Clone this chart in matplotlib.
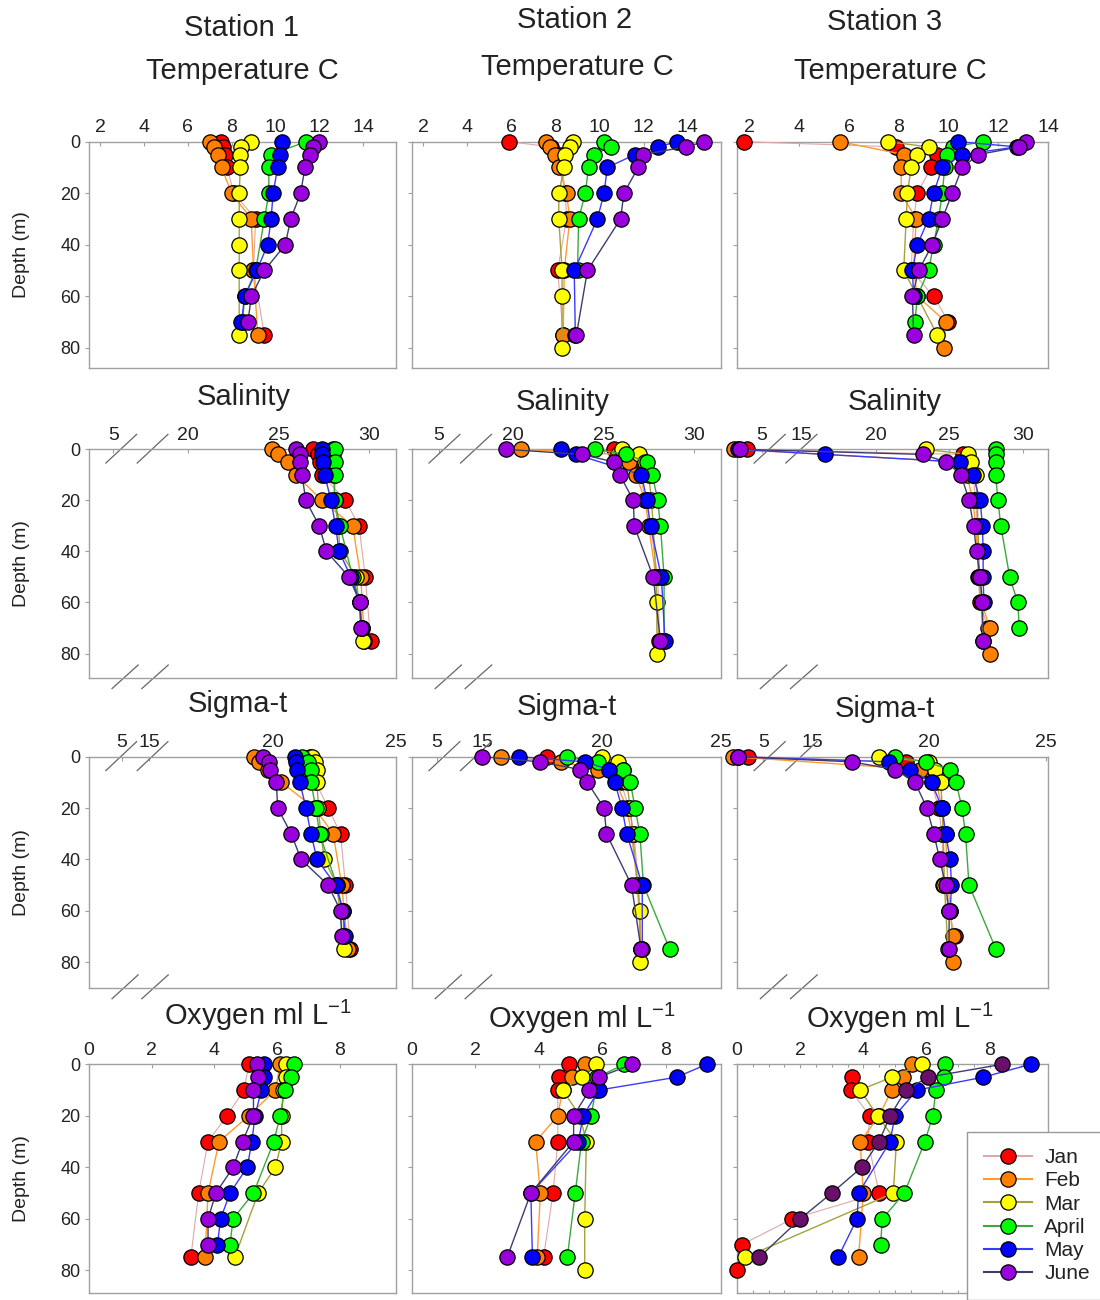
import matplotlib
matplotlib.use("Agg")
import matplotlib.pyplot as plt
from matplotlib.ticker import MultipleLocator

plt.rcParams['font.family'] = ['Liberation Sans', 'DejaVu Sans']
plt.rcParams['mathtext.fontset'] = 'custom'
plt.rcParams['mathtext.rm'] = 'Liberation Sans'
plt.rcParams['mathtext.it'] = 'Liberation Sans:italic'

# months and their styles
months = ["Jan", "Feb", "Mar", "April", "May", "June"]
face_colors = ["#ff0000", "#ff7f00", "#ffff00", "#00ff00", "#0000ff", "#9900dd"]
line_colors = ["#e0a8a8", "#ff9a30", "#a3a33a", "#3aaa3a", "#3a3aff", "#3c3c70"]

# ---- data: month -> (depths in m, values) ----
temp_st1 = {
    "Jan": ([0, 2, 5, 10, 20, 30, 50, 75], [7.5, 7.6, 7.7, 7.8, 8.1, 9.1, 9.0, 9.5]),
    "Feb": ([0, 2, 5, 10, 20, 30, 50, 75], [7.0, 7.2, 7.4, 7.55, 8.0, 8.9, 9.0, 9.2]),
    "Mar": ([0, 2, 5, 10, 20, 30, 40, 50, 75], [8.9, 8.45, 8.4, 8.4, 8.35, 8.35, 8.35, 8.35, 8.35]),
    "April": ([0, 5, 10, 20, 30, 50, 60, 70], [11.4, 9.8, 9.7, 9.7, 9.5, 9.1, 8.6, 8.5]),
    "May": ([0, 5, 10, 20, 30, 40, 50, 60, 70], [10.3, 10.2, 10.1, 9.9, 9.8, 9.65, 9.15, 8.6, 8.45]),
    "June": ([0, 2, 5, 10, 20, 30, 40, 50, 60, 70], [12.0, 11.7, 11.6, 11.35, 11.15, 10.7, 10.45, 9.5, 8.9, 8.75]),
}
temp_st2 = {
    "Jan": ([0, 2, 5, 10, 20, 30, 50, 75], [5.9, 7.8, 8.2, 8.3, 8.45, 8.5, 8.1, 8.35]),
    "Feb": ([0, 2, 5, 10, 20, 30, 50, 75], [7.55, 7.75, 8.0, 8.15, 8.5, 8.65, 8.4, 8.35]),
    "Mar": ([0, 2, 5, 10, 20, 30, 50, 60, 80], [8.8, 8.65, 8.45, 8.4, 8.15, 8.15, 8.3, 8.3, 8.3]),
    "April": ([0, 2, 5, 10, 20, 30, 50], [10.2, 10.5, 9.75, 9.5, 9.35, 9.05, 9.0]),
    "May": ([0, 2, 5, 10, 20, 30, 50, 75], [13.5, 12.65, 11.6, 10.35, 10.2, 9.9, 8.85, 8.9]),
    "June": ([0, 2, 5, 10, 20, 30, 50, 75], [14.75, 13.9, 11.95, 11.75, 11.1, 10.95, 9.45, 8.95]),
}
temp_st3 = {
    "Jan": ([0, 2, 5, 10, 20, 30, 50, 60, 70], [1.8, 7.9, 9.55, 9.3, 8.75, 8.6, 8.5, 9.4, 10.0]),
    "Feb": ([0, 5, 10, 20, 30, 50, 60, 70, 80], [5.65, 8.2, 8.1, 8.1, 8.7, 8.6, 8.75, 9.9, 9.8]),
    "Mar": ([0, 2, 5, 10, 20, 30, 50, 75], [7.55, 9.2, 8.75, 8.5, 8.35, 8.3, 8.2, 9.55]),
    "April": ([0, 2, 5, 10, 20, 30, 40, 50, 60, 70], [11.4, 10.2, 9.95, 9.85, 9.75, 9.6, 9.4, 9.2, 8.75, 8.65]),
    "May": ([0, 2, 5, 10, 20, 30, 40, 50, 60], [10.4, 12.75, 10.55, 9.75, 9.4, 9.2, 8.75, 8.55, 8.6]),
    "June": ([0, 2, 5, 10, 20, 30, 40, 50, 60, 75], [13.1, 12.85, 11.2, 10.55, 10.15, 9.75, 9.35, 8.8, 8.55, 8.6]),
}

sal_st1 = {
    "Jan": ([0, 2, 5, 10, 20, 30, 50, 75], [26.9, 27.2, 27.3, 27.4, 28.7, 29.45, 29.8, 30.1]),
    "Feb": ([0, 2, 5, 10, 20, 30, 50, 75], [24.65, 24.95, 25.5, 25.95, 27.4, 29.1, 29.55, 29.75]),
    "Mar": ([0, 2, 5, 10, 20, 30, 40, 50, 75], [28.0, 28.0, 28.0, 28.05, 28.1, 28.3, 28.4, 29.3, 29.65]),
    "April": ([0, 5, 10, 20, 30, 50, 60, 70], [28.1, 28.1, 28.1, 28.1, 28.4, 29.1, 29.5, 29.6]),
    "May": ([0, 2, 5, 10, 20, 30, 40, 50, 60, 70], [27.4, 27.4, 27.45, 27.55, 27.9, 28.15, 28.35, 29.0, 29.5, 29.6]),
    "June": ([0, 2, 5, 10, 20, 30, 40, 50, 60, 70], [25.95, 26.2, 26.2, 26.3, 26.5, 27.25, 27.65, 28.9, 29.5, 29.55]),
}
sal_st2 = {
    "Jan": ([0, 5, 10, 20, 30, 50, 75], [25.6, 26.5, 27.0, 27.35, 27.6, 28.0, 28.1]),
    "Feb": ([0, 2, 5, 10, 20, 30, 50, 75], [20.45, 25.8, 26.4, 26.8, 27.3, 27.5, 27.9, 28.05]),
    "Mar": ([0, 2, 5, 10, 20, 30, 50, 60, 80], [26.0, 26.95, 27.3, 27.5, 27.65, 27.75, 27.9, 27.95, 27.95]),
    "April": ([0, 2, 5, 10, 20, 30, 50, 75], [24.5, 26.25, 27.4, 27.7, 28.0, 28.15, 28.35, 28.35]),
    "May": ([0, 2, 10, 20, 30, 50, 75], [22.65, 23.45, 27.1, 27.4, 27.6, 28.2, 28.4]),
    "June": ([0, 2, 5, 10, 20, 30, 50, 75], [19.6, 23.8, 25.6, 25.9, 26.65, 26.7, 27.75, 28.15]),
}
sal_st3 = {
    "Jan": ([0, 2, 5, 10, 20, 30, 50, 60, 70], [4.0, 25.9, 26.3, 26.6, 26.8, 26.9, 26.95, 27.1, 27.6]),
    "Feb": ([0, 5, 10, 20, 30, 50, 60, 70, 80], [3.1, 25.7, 26.2, 26.6, 26.8, 27.0, 27.2, 27.75, 27.75]),
    "Mar": ([0, 2, 5, 10, 20, 30, 50, 75], [23.4, 26.25, 26.5, 26.8, 26.9, 26.95, 27.05, 27.3]),
    "April": ([0, 2, 5, 10, 20, 30, 50, 60, 70], [28.15, 28.15, 28.15, 28.15, 28.3, 28.5, 29.1, 29.65, 29.75]),
    "May": ([0, 2, 5, 10, 20, 30, 40, 50, 60], [3.4, 16.6, 25.7, 26.6, 27.1, 27.25, 27.3, 27.3, 27.35]),
    "June": ([0, 2, 5, 10, 20, 30, 40, 50, 60, 75], [3.55, 23.2, 24.8, 25.8, 26.35, 26.65, 26.85, 27.1, 27.25, 27.3]),
}

sig_st1 = {
    "Jan": ([0, 2, 5, 10, 20, 30, 50, 75], [21.5, 21.55, 21.65, 21.75, 22.25, 22.75, 22.95, 23.15]),
    "Feb": ([0, 2, 5, 10, 20, 30, 50, 75], [19.25, 19.45, 19.8, 20.35, 21.7, 22.45, 22.8, 23.05]),
    "Mar": ([0, 2, 5, 10, 20, 30, 40, 50, 75], [21.6, 21.7, 21.8, 21.8, 21.85, 21.95, 22.1, 22.6, 22.9]),
    "April": ([0, 2, 5, 10, 20, 30, 50, 60, 70], [21.2, 21.45, 21.55, 21.55, 21.75, 21.9, 22.6, 22.85, 22.9]),
    "May": ([0, 2, 5, 10, 20, 30, 40, 50, 60, 70], [20.9, 20.95, 21.0, 21.1, 21.35, 21.55, 21.8, 22.55, 22.85, 22.95]),
    "June": ([0, 2, 5, 10, 20, 30, 40, 50, 60, 70], [19.6, 19.85, 19.9, 20.15, 20.2, 20.75, 21.15, 22.25, 22.75, 22.8]),
}
sig_st2 = {
    "Jan": ([0, 2, 5, 10, 20, 30, 50, 75], [17.7, 19.9, 20.35, 20.8, 21.15, 21.35, 21.55, 21.65]),
    "Feb": ([0, 2, 5, 10, 20, 30, 50, 75], [15.8, 18.3, 19.85, 20.6, 21.05, 21.25, 21.5, 21.65]),
    "Mar": ([0, 2, 5, 10, 20, 30, 50, 60, 80], [20.0, 20.7, 20.9, 21.05, 21.2, 21.3, 21.5, 21.6, 21.6]),
    "April": ([0, 2, 5, 10, 20, 30, 50, 75], [18.55, 19.85, 20.9, 21.2, 21.4, 21.6, 21.75, 22.85]),
    "May": ([0, 2, 5, 10, 20, 30, 50, 75], [16.55, 19.3, 20.3, 20.55, 20.85, 21.05, 21.7, 21.7]),
    "June": ([0, 2, 5, 10, 20, 30, 50, 75], [15.0, 17.4, 19.1, 19.4, 20.1, 20.2, 21.25, 21.65]),
}
sig_st3 = {
    "Jan": ([0, 2, 5, 10, 20, 30, 50, 60, 70], [4.35, 19.0, 19.7, 20.1, 20.4, 20.55, 20.6, 20.85, 21.1]),
    "Feb": ([0, 5, 10, 20, 30, 50, 60, 70, 80], [3.7, 19.6, 20.3, 20.55, 20.7, 20.8, 20.9, 21.0, 21.0]),
    "Mar": ([0, 2, 5, 10, 20, 30, 50, 75], [17.85, 20.0, 20.25, 20.5, 20.55, 20.6, 20.65, 20.8]),
    "April": ([0, 2, 5, 10, 20, 30, 50, 75], [18.55, 19.85, 20.9, 21.15, 21.4, 21.55, 21.7, 22.85]),
    "May": ([0, 2, 5, 10, 20, 30, 40, 50, 60], [3.9, 18.3, 19.2, 20.1, 20.55, 20.7, 20.9, 20.95, 20.9]),
    "June": ([0, 2, 5, 10, 20, 30, 40, 50, 60, 75], [3.9, 16.7, 18.55, 19.4, 19.9, 20.2, 20.45, 20.7, 20.85, 20.85]),
}

oxy_st1 = {
    "Jan": ([0, 10, 20, 30, 50, 75], [5.1, 4.95, 4.4, 3.8, 3.5, 3.25]),
    "Feb": ([0, 10, 20, 30, 50, 75], [6.1, 5.95, 5.1, 4.15, 3.8, 3.7]),
    "Mar": ([0, 5, 10, 20, 30, 40, 50, 75], [6.3, 6.3, 6.2, 6.15, 6.15, 5.95, 5.4, 4.65]),
    "April": ([0, 5, 10, 20, 30, 50, 60, 70], [6.55, 6.45, 6.25, 6.1, 5.9, 5.25, 4.6, 4.5]),
    "May": ([0, 5, 10, 20, 30, 40, 50, 60, 70], [5.6, 5.6, 5.5, 5.3, 5.2, 5.05, 4.5, 4.2, 4.1]),
    "June": ([0, 5, 10, 20, 30, 40, 50, 60, 70], [5.35, 5.4, 5.25, 5.25, 4.9, 4.6, 4.05, 3.8, 3.8]),
}
oxy_st2 = {
    "Jan": ([0, 5, 10, 30, 50, 75], [4.95, 4.65, 4.6, 4.6, 4.45, 4.15]),
    "Feb": ([0, 5, 10, 20, 30, 50, 75], [5.45, 5.05, 4.75, 4.6, 3.9, 4.05, 3.95]),
    "Mar": ([0, 5, 10, 20, 30, 60, 80], [5.8, 5.35, 4.75, 5.3, 5.5, 5.45, 5.45]),
    "April": ([0, 5, 10, 20, 30, 50, 75], [6.7, 5.85, 5.8, 5.65, 5.35, 5.15, 4.9]),
    "May": ([0, 5, 10, 20, 30, 50, 75], [9.3, 8.35, 5.9, 5.4, 5.25, 3.75, 3.8]),
    "June": ([0, 5, 10, 20, 30, 50, 75], [6.95, 5.9, 5.6, 5.1, 5.1, 3.75, 3.0]),
}
oxy_st3 = {
    "Jan": ([5, 10, 20, 30, 50, 60, 70, 80], [3.65, 3.6, 4.2, 4.15, 4.5, 1.75, 0.15, 0.0]),
    "Feb": ([0, 5, 10, 20, 30, 50, 75], [5.55, 5.25, 4.9, 4.5, 3.9, 4.0, 3.85]),
    "Mar": ([0, 5, 10, 20, 30, 50, 75], [5.85, 4.9, 3.9, 4.45, 5.05, 4.95, 0.25]),
    "April": ([0, 5, 10, 20, 30, 50, 60, 70], [6.6, 6.55, 6.3, 6.2, 5.95, 5.3, 4.6, 4.55]),
    "May": ([0, 5, 10, 20, 30, 50, 60, 75], [9.3, 7.8, 5.7, 5.0, 4.85, 3.85, 3.8, 3.2]),
    "June": ([0, 5, 10, 20, 30, 40, 50, 60, 75], [8.4, 6.05, 5.35, 4.85, 4.5, 3.95, 3.0, 2.0, 0.7]),
}

rows = [
    [temp_st1, temp_st2, temp_st3],
    [sal_st1, sal_st2, sal_st3],
    [sig_st1, sig_st2, sig_st3],
    [oxy_st1, oxy_st2, oxy_st3],
]

# layout (pixels of the 1100x1300 figure)
W, H = 1100, 1300
col_left = [89, 412, 737]
col_right = [396, 721, 1048]
row_top = [141.7, 449.3, 756.7, 1064.3]
row_bot = [368.3, 678.3, 988.3, 1293.3]
row_depth_max = [88.0, 89.7, 90.2, 88.9]

xlims = [
    [(1.5, 15.5), (1.5, 15.5), (1.5, 14.0)],
    [(14.5, 31.5), (14.4, 31.5), (10.6, 31.7)],
    [(12.55, 24.95), (12.05, 25.0), (11.8, 25.07)],
    [(0, 9.8), (0, 9.75), (0, 9.85)],
]
# shift applied to low values drawn left of the axis break
breaks = [None, [10.85, 10.9, 7.27], [8.87, 8.1, 7.93], None]

spine_col = "#a0a0a0"
text_col = "#222222"

fig = plt.figure(figsize=(W / 100, H / 100), dpi=100)

axes = []
for r in range(4):
    for c in range(3):
        ax = fig.add_axes([col_left[c] / W, 1 - row_bot[r] / H,
                           (col_right[c] - col_left[c]) / W,
                           (row_bot[r] - row_top[r]) / H])
        axes.append(ax)
        data = rows[r][c]
        off = breaks[r][c] if breaks[r] else None
        for i, m in enumerate(months):
            d, v = data[m]
            if off is not None:
                v = [x + off if x < 10 else x for x in v]
            fc = face_colors[i]
            if r == 3 and c == 2 and m == "June":
                fc = "#6a0f6a"
            ax.plot(v, d, "-", color=line_colors[i], lw=0.8 if i == 0 else 1.0,
                    marker="o", ms=11, mfc=fc, mec="black", mew=0.9,
                    clip_on=False, zorder=3 + i)

        ax.set_xlim(*xlims[r][c])
        ax.set_ylim(row_depth_max[r], 0)
        ax.set_yticks([0, 20, 40, 60, 80])
        if r == 0:
            ax.set_xticks(range(2, 16, 2))
        elif r == 3:
            ax.set_xticks(range(0, 10, 2))
        elif r == 1:
            if c == 2:
                ax.set_xticks([5 + off, 15, 20, 25, 30])
                ax.set_xticklabels(["5", "15", "20", "25", "30"])
            else:
                ax.set_xticks([5 + off, 20, 25, 30])
                ax.set_xticklabels(["5", "20", "25", "30"])
        else:
            ax.set_xticks([5 + off, 15, 20, 25])
            ax.set_xticklabels(["5", "15", "20", "25"])

        ax.xaxis.tick_top()
        ax.tick_params(axis="x", direction="in", length=3, color=spine_col,
                       labelsize=14, labelcolor=text_col, pad=4)
        ax.tick_params(axis="y", direction="out", length=3, color=spine_col,
                       labelsize=13, labelcolor=text_col, pad=3,
                       labelleft=(c == 0))
        for s in ax.spines.values():
            s.set_color(spine_col)
            s.set_linewidth(1.0)

        # axis break marks
        if off is not None:
            for x0, x1 in [(0.055, 0.155), (0.157, 0.257)]:
                ax.plot([x0, x1], [0.94, 1.065], color="#666666", lw=0.9,
                        transform=ax.transAxes, clip_on=False)
            for x0, x1 in [(0.075, 0.16), (0.172, 0.258)]:
                ax.plot([x0, x1], [-0.045, 0.058], color="#666666", lw=0.9,
                        transform=ax.transAxes, clip_on=False)

# minor ticks on the station 3 oxygen panel
ax12 = axes[11]
ax12.xaxis.set_minor_locator(MultipleLocator(0.5))
ax12.tick_params(axis="x", which="minor", direction="in", length=2,
                 top=True, bottom=True, color="#888888")

# titles
def ftext(x, y, s, **kw):
    fig.text(x / W, 1 - y / H, s, ha="center", va="center",
             fontsize=21, color=text_col, **kw)

ftext(241, 28, "Station 1")
ftext(242, 71, "Temperature C")
ftext(575, 20, "Station 2")
ftext(577, 67, "Temperature C")
ftext(885, 22, "Station 3")
ftext(890, 71, "Temperature C")
for x, y in [(244, 397), (563, 402), (895, 402)]:
    ftext(x, y, "Salinity")
for x, y in [(238, 704), (567, 707), (885, 709)]:
    ftext(x, y, "Sigma-t")
for x, y in [(258, 1015), (582, 1018), (900, 1018)]:
    ftext(x, y, "Oxygen ml L$^{-1}$")

for r in range(4):
    yc = (row_top[r] + row_bot[r]) / 2
    fig.text(22 / W, 1 - yc / H, "Depth (m)", rotation=90, ha="center",
             va="center", fontsize=14, color=text_col)

# legend in the last panel
handles = []
for i, m in enumerate(months):
    h, = ax12.plot([], [], "-", color=line_colors[i], lw=1.5, marker="o",
                   ms=11, mfc=face_colors[i], mec="black", mew=0.9)
    handles.append(h)
leg = ax12.legend(handles, months, loc="upper left", bbox_to_anchor=(0.74, 0.706),
                  borderaxespad=0, fontsize=15, frameon=True, fancybox=False,
                  edgecolor="#999999", framealpha=1, handlelength=2.3,
                  handletextpad=0.6, borderpad=0.8, labelspacing=0.2)
leg.get_frame().set_linewidth(1.0)
for t in leg.get_texts():
    t.set_color(text_col)
leg.set_zorder(20)

fig.savefig("out.png", dpi=100)
